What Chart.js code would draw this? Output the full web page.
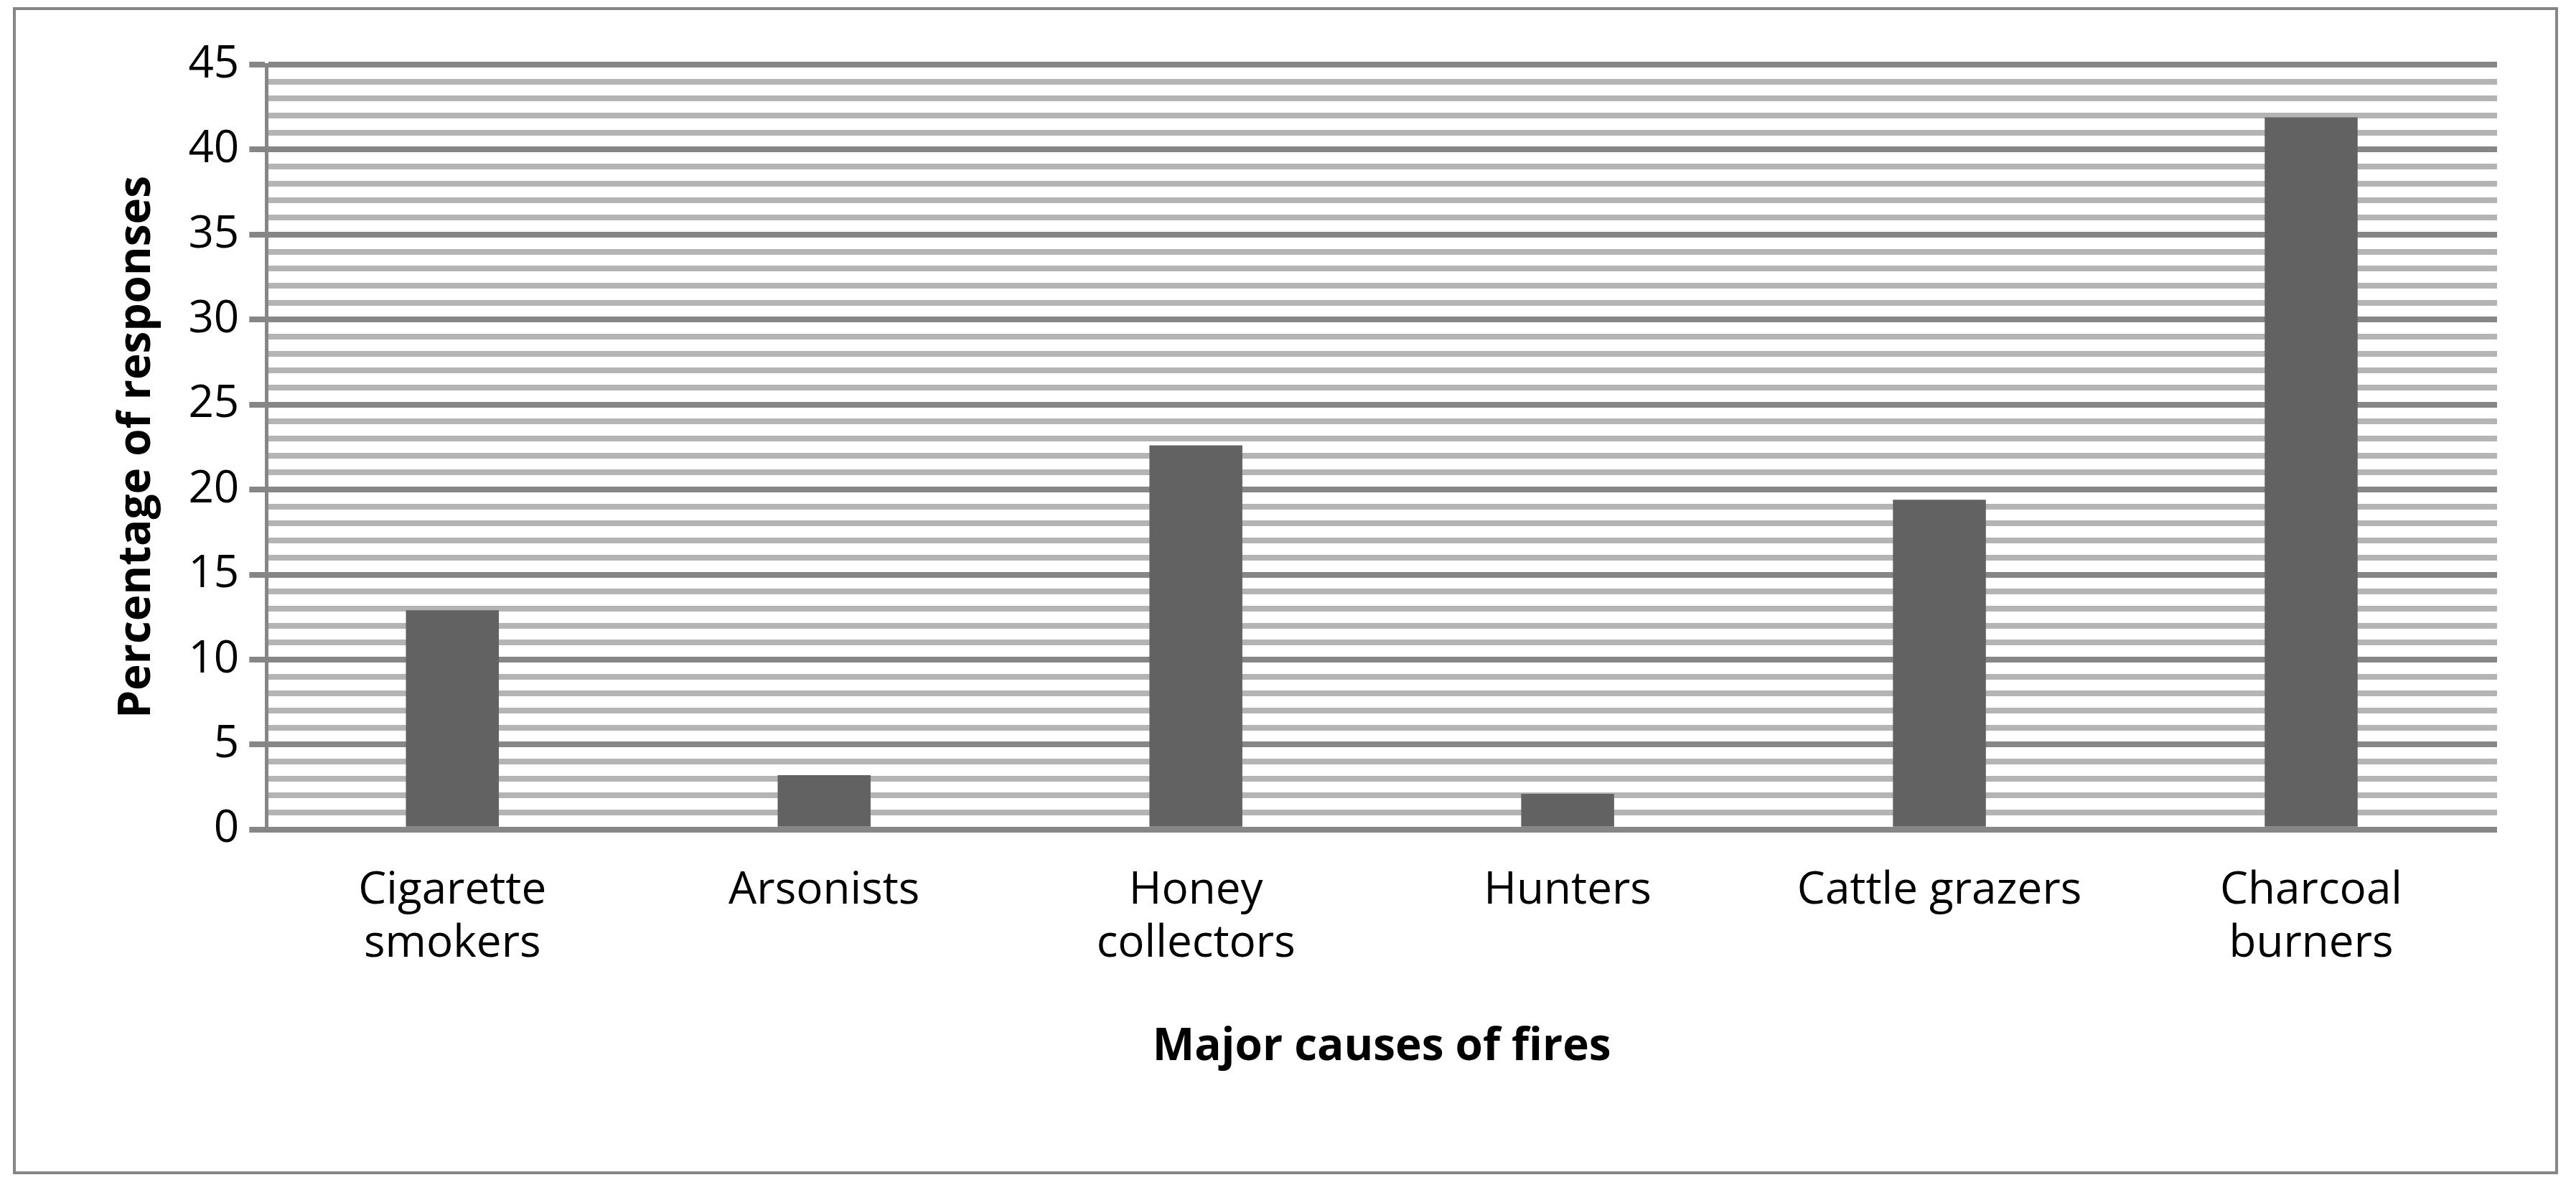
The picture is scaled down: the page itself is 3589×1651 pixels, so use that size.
<!DOCTYPE html>
<html>
<head>
<meta charset="utf-8">
<script src="https://cdn.jsdelivr.net/npm/chart.js@4"></script>
<style>
  body { margin: 0; background: #fff; }
  #frame { position: absolute; left: 18px; top: 10px; width: 3538px; height: 1618px; border: 4px solid #868686; }
  #chart { position: absolute; left: 0; top: 0; }
</style>
</head>
<body>
<div id="frame"></div>
<canvas id="chart" width="3589" height="1651"></canvas>
<script>
// Major causes of fires
const categories = [['Cigarette', 'smokers'], 'Arsonists', ['Honey', 'collectors'], 'Hunters', 'Cattle grazers', ['Charcoal', 'burners']];
const responses = [12.9, 3.2, 22.6, 2.1, 19.4, 41.9];
const yMax = 45;

const fontFamily = '"Open Sans", "Liberation Sans", sans-serif';

const ctx = document.getElementById('chart').getContext('2d');
const chart = new Chart(ctx, {
    type: 'bar',
    data: {
        labels: categories,
        datasets: [{
            data: responses,
            backgroundColor: '#626262',
            barPercentage: 0.25,
            categoryPercentage: 1
        }]
    },
    options: {
        responsive: false,
        devicePixelRatio: 1,
        animation: false,
        layout: { padding: { left: 150, right: 110, top: 90, bottom: 150 } },
        plugins: { legend: { display: false }, tooltip: { enabled: false } },
        scales: {
            x: {
                grid: { display: false },
                border: { display: false },
                ticks: { color: '#000', font: { family: fontFamily, size: 62 }, padding: 40, maxRotation: 0 },
                title: { display: true, text: 'Major causes of fires', color: '#000', font: { family: fontFamily, size: 62, weight: 'bold' }, padding: { top: 30 } }
            },
            y: {
                min: 0,
                max: yMax,
                ticks: {
                    stepSize: 1,
                    autoSkip: false,
                    color: '#000',
                    font: { family: fontFamily, size: 62 },
                    padding: 14,
                    callback: v => (v % 5 === 0 ? v : '')
                },
                grid: {
                    lineWidth: 8,
                    tickLength: 24,
                    color: c => (c.tick && c.tick.value % 5 === 0 ? '#868686' : '#b4b4b4'),
                    tickColor: c => (c.tick && c.tick.value % 5 === 0 ? '#868686' : 'rgba(0,0,0,0)')
                },
                border: { display: true, color: '#868686', width: 5 },
                title: { display: true, text: 'Percentage of responses', color: '#000', font: { family: fontFamily, size: 62, weight: 'bold' }, padding: { bottom: 20 } }
            }
        }
    }
});
</script>
</body>
</html>
